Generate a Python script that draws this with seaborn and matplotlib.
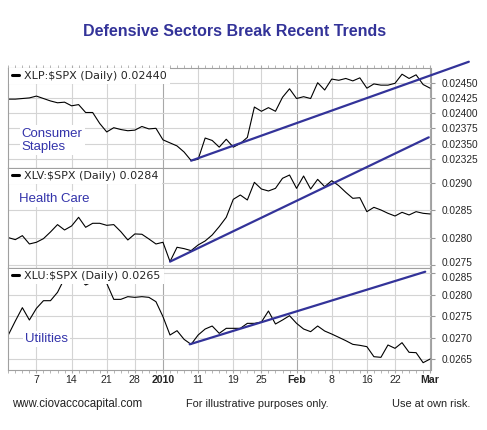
import numpy as np
import pandas as pd
import seaborn as sns
import matplotlib.pyplot as plt
from matplotlib.transforms import ScaledTranslation

# trading days Dec 1 2009 .. Mar 1 2010
holidays = ['2009-12-25', '2010-01-01', '2010-01-18', '2010-02-15']
days = pd.bdate_range('2009-12-01', '2010-03-01')
days = days[~days.isin(pd.to_datetime(holidays))]

staples = [0.02423, 0.02423, 0.02424, 0.02425, 0.02428, 0.02424, 0.02420, 0.02417, 0.02418, 0.02412,
           0.02414, 0.02401, 0.02401, 0.02383, 0.02369, 0.02376, 0.02373, 0.02371, 0.02372, 0.02378,
           0.02374, 0.02375, 0.02356, 0.02351, 0.02346, 0.02336, 0.02322, 0.02324, 0.02359, 0.02355,
           0.02344, 0.02357, 0.02344, 0.02350, 0.02360, 0.02410, 0.02403, 0.02409, 0.02403, 0.02426,
           0.02440, 0.02424, 0.02427, 0.02424, 0.02450, 0.02438, 0.02456, 0.02454, 0.02457, 0.02453,
           0.02458, 0.02441, 0.02448, 0.02446, 0.02446, 0.02449, 0.02464, 0.02457, 0.02463, 0.02447,
           0.02441]
health = [0.027999, 0.027962, 0.028035, 0.027883, 0.027914, 0.02798, 0.028102, 0.028236, 0.028138, 0.028211,
          0.028369, 0.028187, 0.02826, 0.02826, 0.028223, 0.028236, 0.028108, 0.027956, 0.028066, 0.02806,
          0.027974, 0.027883, 0.027914, 0.027562, 0.027823, 0.027798, 0.027762, 0.027865, 0.027938, 0.028047,
          0.028199, 0.028369, 0.028697, 0.028776, 0.028685, 0.029007, 0.028885, 0.028849, 0.028897, 0.02908,
          0.02914, 0.028897, 0.029122, 0.028885, 0.029061, 0.028928, 0.029037, 0.028946, 0.028825, 0.028715,
          0.028727, 0.028472, 0.028551, 0.028503, 0.028442, 0.028393, 0.02846, 0.028412, 0.028472, 0.028442,
          0.02843]
utilities = [0.02706, 0.027387, 0.027698, 0.02741, 0.027682, 0.027861, 0.027861, 0.028056, 0.028383, 0.0285,
             0.028383, 0.028227, 0.028305, 0.028421, 0.028266, 0.027892, 0.027892, 0.027955, 0.027939, 0.027955,
             0.027939, 0.027838, 0.027488, 0.02706, 0.027161, 0.026959, 0.026842, 0.02706, 0.0272, 0.02727,
             0.027099, 0.027216, 0.027216, 0.027216, 0.027332, 0.027332, 0.027363, 0.02762, 0.027317, 0.02741,
             0.027511, 0.027332, 0.0272, 0.027138, 0.02727, 0.027153, 0.027083, 0.027006, 0.026928, 0.026842,
             0.026819, 0.026788, 0.026554, 0.026539, 0.026827, 0.026749, 0.026881, 0.026656, 0.026648, 0.026414,
             0.0265]

# trend lines (trading-day index, value)
staples_trend_x = [26, 65.5]
staples_trend_y = [0.023217, 0.024845]
health_trend_x = [23, 59.8]
health_trend_y = [0.027561, 0.029827]
util_trend_x = [25.8, 59.3]
util_trend_y = [0.026843, 0.028537]

tick_dates = ['2009-12-07', '2009-12-14', '2009-12-21', '2009-12-28', '2010-01-04', '2010-01-11',
              '2010-01-19', '2010-01-25', '2010-02-01', '2010-02-08', '2010-02-16', '2010-02-22', '2010-03-01']
tick_labels = ['7', '14', '21', '28', '2010', '11', '19', '25', 'Feb', '8', '16', '22', 'Mar']
bold_labels = ['2010', 'Feb', 'Mar']

panels = [
    ('XLP', staples, 'Consumer\nStaples', staples_trend_x, staples_trend_y,
     [0.02325, 0.02350, 0.02375, 0.02400, 0.02425, 0.02450], (0.023097, 0.024747), '{:.5f}', '0.02440'),
    ('XLV', health, 'Health Care', health_trend_x, health_trend_y,
     [0.0275, 0.0280, 0.0285, 0.0290], (0.027445, 0.029268), '{:.4f}', '0.0284'),
    ('XLU', utilities, 'Utilities', util_trend_x, util_trend_y,
     [0.0265, 0.0270, 0.0275, 0.0280, 0.0285], (0.026255, 0.028624), '{:.4f}', '0.0265'),
]
label_pos = [(0.032, 0.275), (0.026, 0.69), (0.040, 0.30)]

sns.set_style("white")
plt.rcParams['font.family'] = ['Liberation Sans', 'DejaVu Sans']

idx = np.arange(len(days))
tick_pos = [days.get_loc(pd.Timestamp(d)) for d in tick_dates]

fig = plt.figure(figsize=(4.87, 4.30), dpi=100)
left, width = 8.3 / 487, 422.2 / 487
bounds = [(67.7, 168), (168, 268), (268, 369.5)]
axes = []
for (top, bot) in bounds:
    axes.append(fig.add_axes([left, 1 - bot / 430, width, (bot - top) / 430]))

grid_c = '#d4d4d4'
for k, (ax, p) in enumerate(zip(axes, panels)):
    sym, vals, name, tx, ty, yt, ylim, fmt, last = p
    df = pd.DataFrame({'i': idx, 'v': vals})
    sns.lineplot(data=df, x='i', y='v', ax=ax, color='black', lw=0.8,
                 label=sym + r':\$SPX (Daily) ' + last)
    ax.plot(tx, ty, color='#333399', lw=1.6, clip_on=False, zorder=3)
    ax.set_xlim(0.5, 60.05)
    ax.set_ylim(*ylim)
    ax.set_yticks(yt)
    ax.set_yticklabels([fmt.format(v) for v in yt], fontsize=7.3)
    ax.yaxis.tick_right()
    ax.set_xticks(tick_pos)
    ax.set_xticks(idx, minor=True)
    ax.set_xlabel('')
    ax.set_ylabel('')
    ax.grid(True, which='major', color=grid_c, lw=0.8)
    for j, gl in enumerate(ax.xaxis.get_gridlines()):
        if tick_labels[j] in bold_labels:
            gl.set_color('#a8a8a8')
    ax.tick_params(axis='y', which='major', right=True, length=3, color='#999999', pad=5)
    ax.tick_params(axis='x', which='both', bottom=(k == 2), top=(k == 0), length=2,
                   color='#aaaaaa', labelbottom=(k == 2))
    for s in ax.spines.values():
        s.set_color('#a0a0a0')
        s.set_linewidth(0.8)
    leg = ax.legend(loc='upper left', bbox_to_anchor=(0, 1), borderaxespad=0.05, frameon=True,
                    framealpha=1, fancybox=False, handlelength=0.7, handletextpad=0.45,
                    borderpad=0.25, prop={'family': 'DejaVu Sans', 'size': 8.0})
    leg.get_frame().set_linewidth(0)
    for h in leg.get_lines():
        h.set_linewidth(2.2)
    ax.text(label_pos[k][0], label_pos[k][1], name, transform=ax.transAxes, fontsize=9.5,
            color='#3333aa', va='center', ha='left', linespacing=1.2, zorder=6,
            bbox=dict(facecolor='white', edgecolor='none', pad=1.5))

# nudge the two crowded labels at the panel 2/3 border apart
lab = axes[1].get_yticklabels()[0]
lab.set_transform(lab.get_transform() + ScaledTranslation(0, 2.5 / 72, fig.dpi_scale_trans))
lab = axes[2].get_yticklabels()[-1]
lab.set_transform(lab.get_transform() + ScaledTranslation(0, -2.5 / 72, fig.dpi_scale_trans))

ax3 = axes[2]
ax3.set_xticklabels(tick_labels, fontsize=7.6)
for t in ax3.get_xticklabels():
    if t.get_text() in bold_labels:
        t.set_fontweight('bold')
ax3.tick_params(axis='x', pad=2)

fig.text(235 / 487, 1 - 31 / 430, 'Defensive Sectors Break Recent Trends', ha='center', va='center',
         fontsize=11.5, fontweight='bold', color='#333399')
foot_y = 1 - 404 / 430
fig.text(12 / 487, foot_y, 'www.ciovaccocapital.com', ha='left', va='center', fontsize=8.3, color='#222222')
fig.text(257 / 487, foot_y, 'For illustrative purposes only.', ha='center', va='center', fontsize=7.9, color='#222222')
fig.text(431 / 487, foot_y, 'Use at own risk.', ha='center', va='center', fontsize=7.9, color='#222222')

plt.savefig('out.png', dpi=100)
